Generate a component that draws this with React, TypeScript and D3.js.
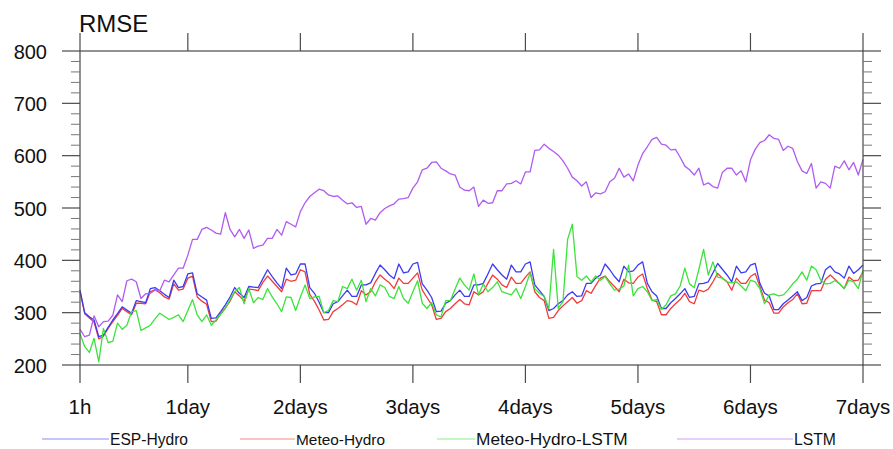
import React from 'react';
import * as d3 from 'd3';

// lead time in hours, 1h .. 7 days
const hours = d3.range(1, 169);

const espHydro = [
  343, 300, 292, 286, 254, 257, 272, 286, 298, 311, 305, 299,
  323, 321, 319, 346, 348, 342, 335, 329, 362, 348, 350, 374,
  376, 336, 330, 324, 289, 290, 302, 315, 330, 348, 337, 329,
  350, 349, 348, 365, 382, 369, 357, 346, 385, 372, 374, 393,
  393, 348, 337, 320, 300, 300, 317, 321, 332, 343, 331, 331,
  353, 353, 357, 375, 391, 382, 372, 365, 393, 376, 378, 393,
  396, 355, 343, 329, 302, 303, 318, 323, 334, 343, 331, 331,
  353, 353, 356, 374, 393, 382, 372, 364, 391, 378, 378, 393,
  397, 353, 342, 331, 304, 308, 317, 323, 334, 340, 331, 332,
  356, 356, 366, 372, 393, 382, 369, 359, 389, 378, 380, 391,
  397, 356, 340, 332, 308, 308, 319, 327, 336, 346, 329, 331,
  355, 356, 359, 376, 394, 383, 372, 359, 389, 376, 378, 391,
  394, 356, 337, 332, 306, 306, 317, 324, 332, 340, 323, 329,
  351, 355, 356, 382, 389, 378, 374, 366, 389, 375, 382, 391,
];

const meteoHydro = [
  340, 298, 290, 282, 250, 255, 270, 283, 295, 308, 302, 296,
  318, 318, 317, 340, 344, 338, 330, 326, 355, 343, 345, 366,
  370, 330, 322, 316, 283, 284, 298, 309, 322, 340, 332, 322,
  345, 344, 342, 358, 370, 360, 350, 340, 364, 360, 362, 382,
  378, 335, 322, 305, 286, 287, 302, 308, 315, 323, 321, 315,
  342, 334, 340, 359, 372, 364, 357, 346, 366, 356, 356, 366,
  376, 343, 329, 315, 287, 289, 302, 308, 317, 325, 317, 315,
  340, 334, 340, 356, 372, 364, 353, 348, 368, 356, 356, 368,
  378, 340, 329, 323, 289, 291, 304, 313, 321, 329, 318, 323,
  342, 337, 352, 366, 370, 359, 350, 340, 364, 357, 356, 368,
  374, 346, 324, 321, 296, 296, 308, 317, 325, 337, 321, 317,
  343, 340, 345, 359, 375, 366, 359, 343, 366, 356, 356, 369,
  375, 350, 324, 319, 299, 299, 311, 319, 325, 336, 317, 318,
  342, 342, 342, 364, 372, 364, 355, 346, 368, 361, 362, 378,
];

const meteoHydroLstm = [
  260, 235, 224, 251, 206, 270, 243, 245, 280, 268, 276, 302,
  304, 266, 271, 276, 288, 299, 293, 287, 291, 296, 283, 304,
  325, 296, 283, 296, 276, 286, 297, 308, 325, 340, 348, 317,
  346, 319, 329, 325, 346, 330, 317, 302, 330, 329, 304, 330,
  353, 327, 330, 331, 300, 304, 323, 321, 350, 346, 364, 343,
  362, 321, 346, 332, 353, 348, 331, 327, 350, 327, 318, 340,
  361, 318, 308, 319, 296, 292, 323, 323, 345, 366, 353, 343,
  374, 334, 355, 340, 348, 359, 340, 337, 334, 346, 327, 350,
  376, 346, 337, 331, 308, 421, 308, 321, 440, 469, 369, 362,
  370, 359, 370, 362, 369, 355, 343, 345, 351, 391, 332, 346,
  350, 340, 323, 325, 306, 315, 332, 336, 351, 385, 355, 348,
  383, 421, 372, 397, 368, 366, 359, 357, 359, 351, 342, 362,
  359, 346, 317, 334, 336, 332, 334, 343, 355, 364, 378, 362,
  389, 382, 362, 355, 356, 361, 356, 346, 362, 359, 346, 382,
];

const lstm = [
  268, 254, 257, 294, 273, 283, 284, 295, 334, 321, 361, 364,
  359, 327, 336, 337, 343, 342, 362, 359, 372, 385, 385, 410,
  440, 440, 459, 463, 458, 452, 450, 491, 459, 445, 459, 442,
  458, 423, 427, 429, 442, 442, 459, 448, 474, 469, 464, 493,
  510, 522, 529, 536, 533, 525, 522, 523, 515, 508, 510, 501,
  503, 469, 480, 477, 491, 499, 504, 508, 517, 518, 520, 538,
  550, 573, 576, 587, 588, 576, 571, 565, 563, 540, 534, 533,
  540, 503, 515, 509, 510, 533, 533, 546, 547, 552, 546, 569,
  569, 610, 611, 622, 614, 608, 601, 590, 576, 559, 552, 542,
  550, 520, 529, 527, 531, 550, 557, 576, 559, 565, 552, 582,
  604, 617, 631, 635, 622, 620, 611, 612, 597, 580, 573, 563,
  576, 544, 548, 541, 538, 568, 576, 576, 563, 571, 550, 592,
  612, 625, 629, 640, 633, 631, 610, 618, 614, 589, 571, 566,
  585, 538, 550, 547, 538, 580, 576, 590, 573, 587, 563, 593,
];

const xTickHours = [1, 24, 48, 72, 96, 120, 144, 168];
const xTickLabels = ['1h', '1day', '2days', '3days', '4days', '5days', '6days', '7days'];
const yTicks = [200, 300, 400, 500, 600, 700, 800];

const series = [
  { name: 'ESP-Hydro', values: espHydro, color: '#3b3bf2', legendX: 42, legendW: 67, labelSize: 15.6 },
  { name: 'Meteo-Hydro', values: meteoHydro, color: '#f23b3b', legendX: 240, legendW: 55, labelSize: 15.4 },
  { name: 'Meteo-Hydro-LSTM', values: meteoHydroLstm, color: '#3be33b', legendX: 437, legendW: 38, labelSize: 17.3 },
  { name: 'LSTM', values: lstm, color: '#b05cf0', legendX: 677, legendW: 116, labelSize: 15.7 },
];
// draw order: red under blue
const drawOrder = [1, 0, 2, 3];

const W = 893;
const H = 449;
const plot = { left: 80, right: 863, top: 51, bottom: 365 };
const axisColor = '#4a4a4a';
const font = '"Liberation Sans", Arial, Helvetica, sans-serif';

export default function App() {
  const x = d3.scaleLinear().domain([1, 168]).range([plot.left, plot.right]);
  const y = d3.scaleLinear().domain([200, 800]).range([plot.bottom, plot.top]);
  const line = d3.line<number>()
    .x((_, i) => x(hours[i]))
    .y(d => y(d));

  const minorTicks = d3.range(200, 801, 20).filter(v => v % 100 !== 0);

  return (
    <svg width={W} height={H} style={{ position: 'absolute', left: 0, top: 0, background: '#fff' }}
      fontFamily={font}>
      {/* series */}
      {drawOrder.map(i => (
        <path key={series[i].name} d={line(series[i].values) || ''} fill="none"
          stroke={series[i].color} strokeWidth={1.3} strokeLinejoin="round" />
      ))}

      {/* frame */}
      <rect x={plot.left} y={plot.top} width={plot.right - plot.left} height={plot.bottom - plot.top}
        fill="none" stroke={axisColor} strokeWidth={1.2} />

      {/* y ticks both sides, outward */}
      {yTicks.map(v => (
        <g key={'y' + v}>
          <line x1={plot.left - 18} x2={plot.left} y1={y(v)} y2={y(v)} stroke={axisColor} strokeWidth={1.2} />
          <line x1={plot.right} x2={plot.right + 18} y1={y(v)} y2={y(v)} stroke={axisColor} strokeWidth={1.2} />
          <text x={plot.left - 33} y={y(v) + 7.5} textAnchor="end" fontSize={20} fill="#111">{v}</text>
        </g>
      ))}
      {minorTicks.map(v => (
        <g key={'m' + v}>
          <line x1={plot.left - 9} x2={plot.left} y1={y(v)} y2={y(v)} stroke="#777" strokeWidth={1} />
          <line x1={plot.right} x2={plot.right + 9} y1={y(v)} y2={y(v)} stroke="#777" strokeWidth={1} />
        </g>
      ))}

      {/* x ticks top and bottom, outward */}
      {xTickHours.map((h, i) => (
        <g key={'x' + h}>
          <line x1={x(h)} x2={x(h)} y1={plot.top - 18} y2={plot.top} stroke={axisColor} strokeWidth={1.2} />
          <line x1={x(h)} x2={x(h)} y1={plot.bottom} y2={plot.bottom + 18} stroke={axisColor} strokeWidth={1.2} />
          <text x={x(h)} y={414} textAnchor="middle" fontSize={20.5} fill="#111">{xTickLabels[i]}</text>
        </g>
      ))}

      {/* title */}
      <text x={79} y={32} fontSize={24} fill="#111">RMSE</text>

      {/* legend */}
      {series.map(s => (
        <g key={'lg' + s.name}>
          <line x1={s.legendX} x2={s.legendX + s.legendW} y1={439} y2={439}
            stroke={s.color} strokeOpacity={0.4} strokeWidth={1.3} />
          <text x={s.legendX + s.legendW + 1} y={445} fontSize={s.labelSize} fill="#111">{s.name}</text>
        </g>
      ))}
    </svg>
  );
}
